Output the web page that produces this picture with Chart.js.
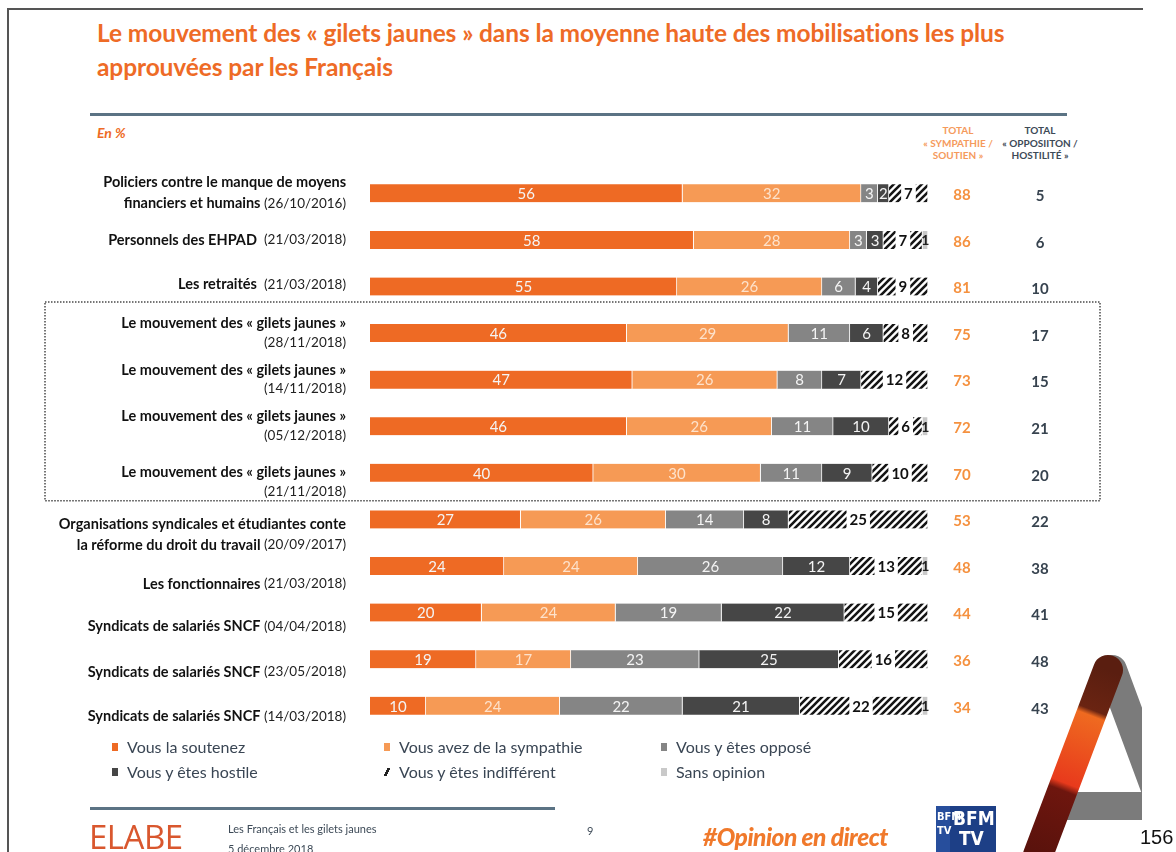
<!DOCTYPE html>
<html>
<head>
<meta charset="utf-8">
<script src="https://cdn.jsdelivr.net/npm/chart.js@4.4.1/dist/chart.umd.min.js"></script>
<style>
  body { margin: 0; background: #fff; font-family: Lato, sans-serif; }
  #page { position: relative; width: 1176px; height: 852px; overflow: hidden; background: #fff; }
  #BarChart { position: absolute; left: 0; top: 0; }
  .abs { position: absolute; white-space: nowrap; }
  .title { left: 97px; color: #ee6b26; font-weight: bold; font-size: 24.5px; line-height: 34px; letter-spacing: -0.1px; }
  .rule { position: absolute; height: 3px; background: #5b7384; }
  .head { text-align: center; font-weight: bold; font-size: 10px; line-height: 12.5px; width: 120px; }
  #legend { position: absolute; left: 112px; top: 736px; display: grid; grid-template-columns: 272px 277px 200px; row-gap: 3px; }
  #legend div { font-size: 16px; color: #3a4654; line-height: 22px; }
  #legend span { display: inline-block; width: 6px; height: 8px; margin-right: 9px; vertical-align: 2px; }
</style>
</head>
<body>
<div id="page">
  <div class="abs" style="left:7px;top:8px;width:1136px;height:2px;background:#555;"></div>
  <div class="abs" style="left:7px;top:8px;width:2px;height:844px;background:#555;"></div>

  <div class="abs title" style="top:16px;">Le mouvement des « gilets jaunes » dans la moyenne haute des mobilisations les plus</div>
  <div class="abs title" style="top:50px;">approuvées par les Français</div>
  <div class="rule" style="left:90px;top:113px;width:977px;"></div>
  <div class="abs" style="left:97px;top:124px;color:#ee6b26;font-weight:bold;font-style:italic;font-size:14px;">En %</div>

  <div class="abs head" style="left:898px;top:124px;color:#f59a5c;">TOTAL<br>« SYMPATHIE /<br>SOUTIEN »</div>
  <div class="abs head" style="left:980px;top:124px;color:#3d4a57;">TOTAL<br>« OPPOSIITON /<br>HOSTILITÉ »</div>

  <canvas id="BarChart" width="1176" height="852"></canvas>

  <div id="legend"></div>

  <div class="rule" style="left:90px;top:807px;width:465px;"></div>
  <div class="abs" style="left:89px;top:815px;font-size:33px;line-height:44px;letter-spacing:-0.5px;font-family:'Open Sans';color:#d9572e;">ELABE</div>
  <div class="abs" style="left:228px;top:822px;font-size:11px;color:#3d4a57;">Les Français et les gilets jaunes</div>
  <div class="abs" style="left:228px;top:842px;font-size:11px;color:#3d4a57;">5 décembre 2018</div>
  <div class="abs" style="left:587px;top:824px;font-size:11px;color:#3d4a57;">9</div>
  <div class="abs" style="left:703px;top:822px;font-size:24.5px;font-weight:900;font-style:italic;color:#f0792b;letter-spacing:-0.5px;">#Opinion en direct</div>

  <div class="abs" style="left:936px;top:806px;width:60px;height:46px;background:#1d3f86;overflow:hidden;">
    <div style="position:absolute;left:0;top:0;width:14px;height:46px;background:#274e9c;"></div>
    <div style="position:absolute;left:1px;top:4px;color:#fff;font:bold 11px 'Liberation Sans Narrow','DejaVu Sans Condensed',sans-serif;line-height:14px;">BFM<br>TV</div>
    <div style="position:absolute;left:17px;top:2px;color:#fff;font:bold 19px 'Liberation Sans Narrow','DejaVu Sans Condensed',sans-serif;line-height:20px;">BFM<br>&nbsp;TV</div>
  </div>

  <svg class="abs" style="left:1020px;top:640px;" width="122" height="212">
    <defs>
      <linearGradient id="leg" gradientUnits="userSpaceOnUse" x1="88" y1="30" x2="18" y2="212">
        <stop offset="0" stop-color="#5a1e10"/>
        <stop offset="0.22" stop-color="#6a2412"/>
        <stop offset="0.25" stop-color="#ef6a20"/>
        <stop offset="0.62" stop-color="#e83a1c"/>
        <stop offset="0.66" stop-color="#6e160e"/>
        <stop offset="1" stop-color="#5a120c"/>
      </linearGradient>
    </defs>
    <line x1="92" y1="30" x2="142" y2="165" stroke="#7b7b7b" stroke-width="30" stroke-linecap="round"/>
    <rect x="33" y="152" width="89" height="28" fill="#7b7b7b"/>
    <line x1="88" y1="30" x2="18" y2="215" stroke="url(#leg)" stroke-width="30" stroke-linecap="round"/>
  </svg>
  <div class="abs" style="left:1140px;top:826px;font-size:20px;font-family:'Liberation Sans',sans-serif;color:#111;">156</div>
</div>

<script>
// categories: bold name (\n = line break), then the survey date
const categoryNames = [
    'Policiers contre le manque de moyens\nfinanciers et humains',
    'Personnels des EHPAD ',
    'Les retraités ',
    'Le mouvement des « gilets jaunes »\n',
    'Le mouvement des « gilets jaunes »\n',
    'Le mouvement des « gilets jaunes »\n',
    'Le mouvement des « gilets jaunes »\n',
    'Organisations syndicales et étudiantes conte\nla réforme du droit du travail',
    'Les fonctionnaires',
    'Syndicats de salariés SNCF',
    'Syndicats de salariés SNCF',
    'Syndicats de salariés SNCF'
];
const surveyDates = [
    '(26/10/2016)', '(21/03/2018)', '(21/03/2018)', '(28/11/2018)', '(14/11/2018)', '(05/12/2018)',
    '(21/11/2018)', '(20/09/2017)', '(21/03/2018)', '(04/04/2018)', '(23/05/2018)', '(14/03/2018)'
];

const soutenez    = [56, 58, 55, 46, 47, 46, 40, 27, 24, 20, 19, 10];
const sympathie   = [32, 28, 26, 29, 26, 26, 30, 26, 24, 24, 17, 24];
const oppose      = [3, 3, 6, 11, 8, 11, 11, 14, 26, 19, 23, 22];
const hostile     = [2, 3, 4, 6, 7, 10, 9, 8, 12, 22, 25, 21];
const indifferent = [7, 7, 9, 8, 12, 6, 10, 25, 13, 15, 16, 22];
const sansOpinion = [0, 1, 0, 0, 0, 1, 0, 0, 1, 0, 0, 1];

const totalSoutien    = [88, 86, 81, 75, 73, 72, 70, 53, 48, 44, 36, 34];
const totalOpposition = [5, 6, 10, 17, 15, 21, 20, 22, 38, 41, 48, 43];

// the row labels sit a little lower than their bars towards the bottom
const labelShift = [0, 0, -2, 0, 0, 0, 9, 15, 18, 14, 13, 11];

function hatch() {
    const c = document.createElement('canvas');
    c.width = 7; c.height = 7;
    const g = c.getContext('2d');
    g.fillStyle = '#fff';
    g.fillRect(0, 0, 7, 7);
    g.strokeStyle = '#151515';
    g.lineWidth = 2.6;
    g.beginPath();
    g.moveTo(-1, 8); g.lineTo(8, -1);
    g.moveTo(-1, 1); g.lineTo(1, -1);
    g.moveTo(6, 8); g.lineTo(8, 6);
    g.stroke();
    return g.createPattern(c, 'repeat');
}

function segment(label, data, color) {
    return {
        label: label,
        data: data,
        backgroundColor: color,
        borderColor: 'rgba(255,255,255,0.85)',
        borderWidth: { left: 0, right: 1, top: 0, bottom: 0 },
        borderSkipped: false,
        barThickness: 18
    };
}

const overlay = {
    id: 'overlay',
    afterDatasetsDraw(chart) {
        const ctx = chart.ctx;
        const y = chart.scales.y;
        ctx.save();
        ctx.textBaseline = 'middle';

        // numbers inside the segments
        chart.data.datasets.forEach((ds, di) => {
            chart.getDatasetMeta(di).data.forEach((bar, i) => {
                const v = ds.data[i];
                if (!v) return;
                const cx = (bar.x + bar.base) / 2;
                const cy = bar.y + 1;
                ctx.textAlign = 'center';
                if (di === 4) {
                    ctx.font = 'bold 15px Lato';
                    const w = ctx.measureText(String(v)).width + 6;
                    ctx.fillStyle = '#fff';
                    ctx.fillRect(cx - w / 2, bar.y - 10, w, 20);
                    ctx.fillStyle = '#111';
                    ctx.fillText(v, cx, cy);
                } else if (di === 5) {
                    ctx.font = 'bold 14px Lato';
                    ctx.fillStyle = '#222';
                    ctx.fillText(v, cx, cy);
                } else {
                    ctx.font = '15px Lato';
                    ctx.fillStyle = di === 1 ? '#fde2cc' : '#f4f4f4';
                    ctx.fillText(v, cx, cy);
                }
            });
        });

        // row labels, bold name + regular date, right aligned
        categoryNames.forEach((name, i) => {
            const lines = name.split('\n');
            const cy = y.getPixelForValue(i) + labelShift[i];
            const gap = lines.length > 1 && lines[lines.length - 1] === '' ? 19 : 21;
            lines.forEach((txt, k) => {
                const ly = cy + (k - (lines.length - 1) / 2) * gap;
                const date = k === lines.length - 1 ? (txt ? ' ' : '') + surveyDates[i] : '';
                ctx.font = '13.5px Lato';
                const wd = ctx.measureText(date).width;
                ctx.font = 'bold 14.5px Lato';
                const wb = ctx.measureText(txt).width;
                ctx.textAlign = 'left';
                ctx.fillStyle = '#111';
                ctx.fillText(txt, 346 - wd - wb, ly);
                ctx.font = '13.5px Lato';
                ctx.fillStyle = '#222';
                ctx.fillText(date, 346 - wd, ly);
            });
        });

        // totals columns
        ctx.textAlign = 'center';
        ctx.font = 'bold 15px Lato';
        totalSoutien.forEach((v, i) => {
            const cy = y.getPixelForValue(i) + 2;
            ctx.fillStyle = '#f5913f';
            ctx.fillText(v, 962, cy);
            ctx.fillStyle = '#37434f';
            ctx.fillText(totalOpposition[i], 1040, cy + 1);
        });

        // dotted frame round the "gilets jaunes" rows
        const top = y.getPixelForValue(3) - 31;
        const bottom = y.getPixelForValue(6) + 28;
        ctx.strokeStyle = '#4a4a4a';
        ctx.lineWidth = 1.5;
        ctx.setLineDash([1.5, 1.5]);
        ctx.strokeRect(45, top, 1055, bottom - top);
        ctx.restore();
    }
};

const ctx = document.getElementById('BarChart');
const BarChart = new Chart(ctx, {
    type: 'bar',
    data: {
        labels: categoryNames.map((n, i) => n.replace('\n', ' ') + ' ' + surveyDates[i]),
        datasets: [
            segment('Vous la soutenez', soutenez, '#ee6a24'),
            segment('Vous avez de la sympathie', sympathie, '#f69a55'),
            segment('Vous y êtes opposé', oppose, '#858585'),
            segment('Vous y êtes hostile', hostile, '#464646'),
            segment('Vous y êtes indifférent', indifferent, hatch()),
            segment('Sans opinion', sansOpinion, '#c9c9c9')
        ]
    },
    options: {
        indexAxis: 'y',
        responsive: false,
        animation: false,
        layout: { padding: { left: 370, right: 248, top: 170, bottom: 123 } },
        scales: {
            x: { stacked: true, min: 0, max: 100, display: false },
            y: { stacked: true, display: false }
        },
        plugins: {
            legend: { display: false },
            tooltip: { enabled: false }
        }
    },
    plugins: [overlay]
});

// legend fills the grid row by row: soutenez, sympathie, opposé / hostile, indifférent, sans opinion
const legend = document.getElementById('legend');
BarChart.data.datasets.forEach((ds, di) => {
    const item = document.createElement('div');
    const mark = document.createElement('span');
    if (di === 4) {
        mark.style.background = 'linear-gradient(120deg, transparent 35%, #222 35%, #222 65%, transparent 65%)';
    } else {
        mark.style.background = ds.backgroundColor;
    }
    item.appendChild(mark);
    item.appendChild(document.createTextNode(ds.label));
    legend.appendChild(item);
});
</script>
</body>
</html>
